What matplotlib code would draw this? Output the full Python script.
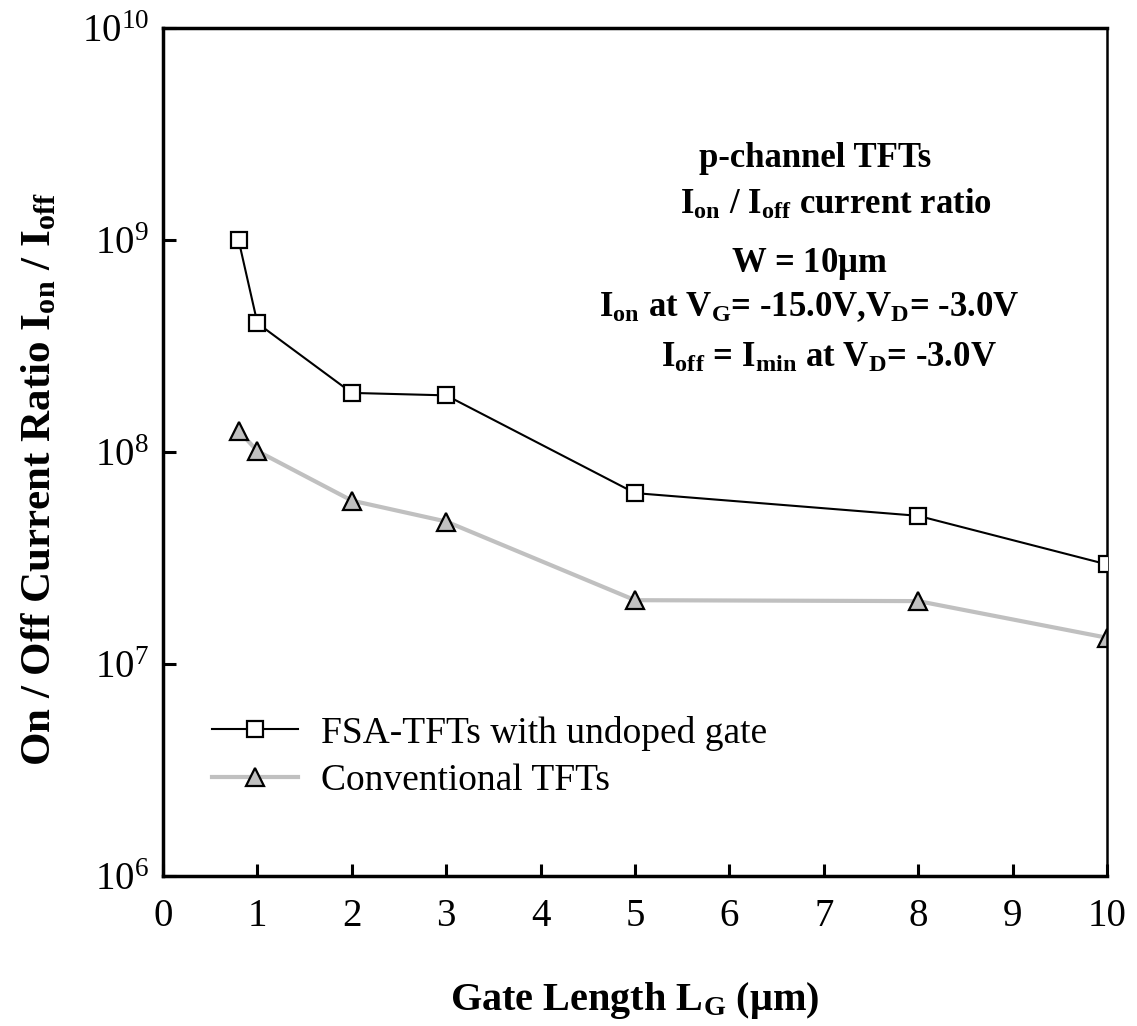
import numpy as np
import matplotlib
matplotlib.use("Agg")
import matplotlib.pyplot as plt
from matplotlib.ticker import LogLocator, LogFormatterMathtext, NullLocator

plt.rcParams['font.family'] = ['Liberation Serif', 'DejaVu Serif']
plt.rcParams['mathtext.fontset'] = 'custom'
plt.rcParams['mathtext.rm'] = 'Liberation Serif'
plt.rcParams['mathtext.it'] = 'Liberation Serif:italic'
plt.rcParams['mathtext.bf'] = 'Liberation Serif:bold'

# gate length (um)
lg_fsa = [0.8, 1, 2, 3, 5, 8, 10]
ratio_fsa = [1.0e9, 4.05e8, 1.9e8, 1.85e8, 6.4e7, 5.0e7, 2.95e7]

lg_conv = [0.8, 1, 2, 3, 5, 8, 10]
ratio_conv = [1.26e8, 1.01e8, 5.9e7, 4.7e7, 2.0e7, 1.98e7, 1.33e7]

x_ticks = list(range(0, 11))

fig = plt.figure(figsize=(11.37, 10.26), dpi=100)
ax = fig.add_axes([0.1434, 0.1462, 0.8302, 0.8265])

ax.plot(lg_fsa, ratio_fsa, color='black', lw=1.5, marker='s', ms=12,
        mfc='white', mec='black', mew=1.6, label='FSA-TFTs with undoped gate', zorder=3)
ax.plot(lg_conv, ratio_conv, color='#c0c0c0', lw=3, marker='^', ms=13,
        mfc='#c0c0c0', mec='black', mew=1.6, label='Conventional TFTs', zorder=2)

ax.set_yscale('log')
ax.set_xlim(0, 10)
ax.set_ylim(1e6, 1e10)
ax.set_xticks(x_ticks)
ax.yaxis.set_major_locator(LogLocator(base=10, numticks=10))
ax.yaxis.set_major_formatter(LogFormatterMathtext())
ax.yaxis.set_minor_locator(NullLocator())

ax.tick_params(axis='both', which='major', direction='in', length=9, width=2.2,
               labelsize=28, pad=16)
ax.tick_params(axis='y', pad=10)
for side in ['left', 'top', 'bottom']:
    ax.spines[side].set_linewidth(2.5)
ax.spines['right'].set_linewidth(1.8)

ax.set_xlabel(r'Gate Length L$_\mathbf{G}$ ($\mathbf{\mu}$m)', fontsize=29,
              fontweight='bold', labelpad=32)
ax.set_ylabel(r'On / Off Current Ratio I$_\mathbf{on}$ / I$_\mathbf{off}$', fontsize=31,
              fontweight='bold')
ax.yaxis.set_label_coords(-0.11, 0.468)

notes = [
    (0.691, 0.846, r'p-channel TFTs'),
    (0.713, 0.791, r'I$_\mathbf{on}$ / I$_\mathbf{off}$ current ratio'),
    (0.685, 0.722, r'W = 10$\mathbf{\mu}$m'),
    (0.685, 0.671, r'I$_\mathbf{on}$ at V$_\mathbf{G}$= -15.0V,V$_\mathbf{D}$= -3.0V'),
    (0.705, 0.611, r'I$_\mathbf{off}$ = I$_\mathbf{min}$ at V$_\mathbf{D}$= -3.0V'),
]
for x, y, s in notes:
    ax.text(x, y, s, transform=ax.transAxes, ha='center', va='center',
            fontsize=25, fontweight='bold')

leg = ax.legend(loc='upper left', bbox_to_anchor=(0.016, 0.229), frameon=False,
                fontsize=27, handlelength=2.3, handletextpad=0.6, labelspacing=0.35)

fig.savefig('out.png', dpi=100)
